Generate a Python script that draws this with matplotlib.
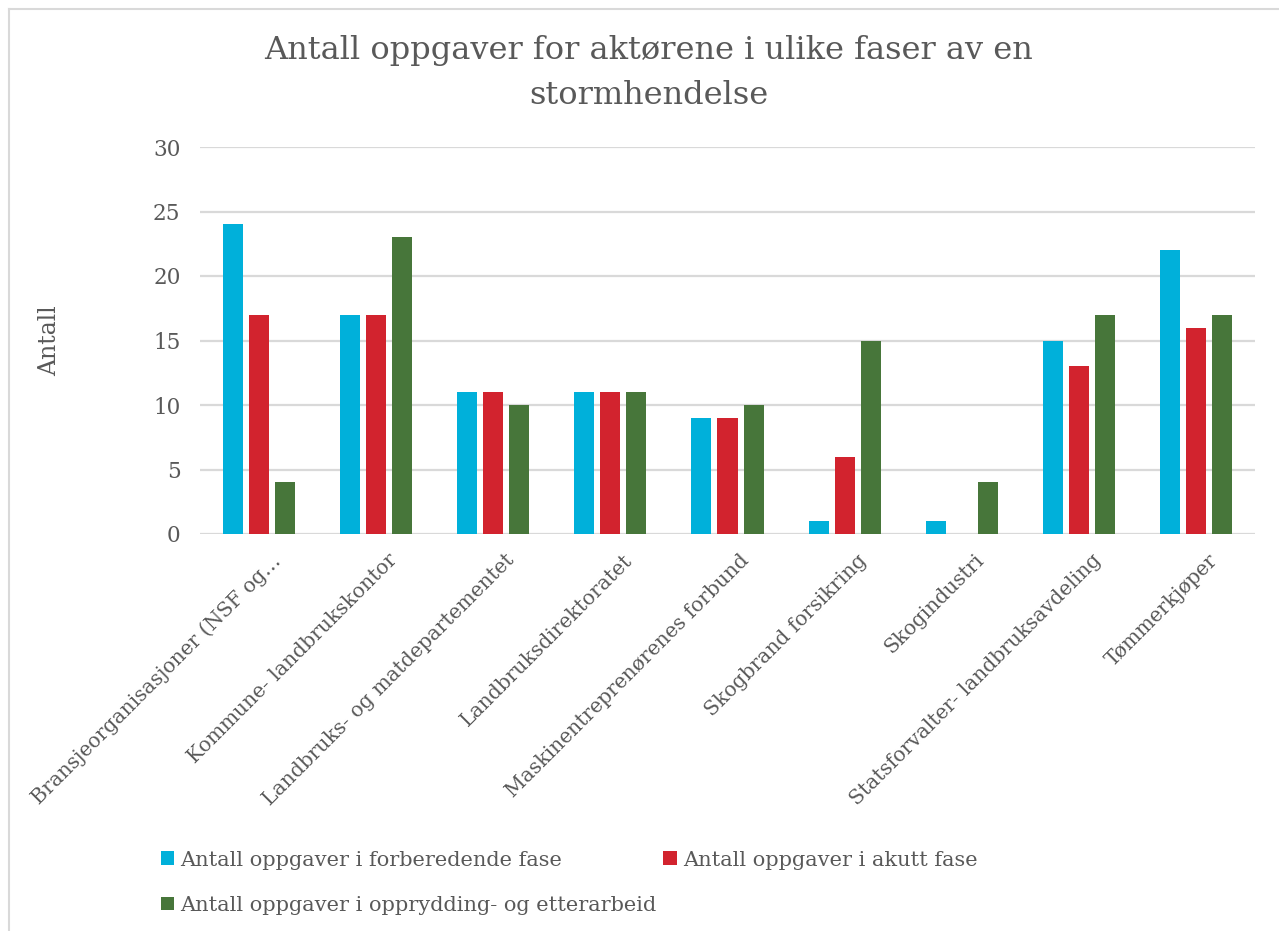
import numpy as np
import matplotlib
matplotlib.use("Agg")
import matplotlib.pyplot as plt
import matplotlib.transforms as mtransforms
from matplotlib.lines import Line2D
from matplotlib.patches import Patch

plt.rcParams["font.family"] = ["DejaVu Serif"]

actors = [
    "Bransjeorganisasjoner (NSF og…",
    "Kommune- landbrukskontor",
    "Landbruks- og matdepartementet",
    "Landbruksdirektoratet",
    "Maskinentreprenørenes forbund",
    "Skogbrand forsikring",
    "Skogindustri",
    "Statsforvalter- landbruksavdeling",
    "Tømmerkjøper",
]
forberedende = [24, 17, 11, 11, 9, 1, 1, 15, 22]
akutt = [17, 17, 11, 11, 9, 6, 0, 13, 16]
opprydding = [4, 23, 10, 11, 10, 15, 4, 17, 17]

series = [
    ("Antall oppgaver i forberedende fase", forberedende, "#00B0DA"),
    ("Antall oppgaver i akutt fase", akutt, "#D2232E"),
    ("Antall oppgaver i opprydding- og etterarbeid", opprydding, "#47763A"),
]

text_col = "#595959"
grid_col = "#D9D9D9"

W, H = 1279, 931
fig = plt.figure(figsize=(W / 100, H / 100), dpi=100)
ax = fig.add_axes([200 / W, 1 - 534 / H, 1055 / W, 387 / H])

x = np.arange(len(actors))
step = 0.222
width = 0.171
for i, (name, vals, col) in enumerate(series):
    ax.bar(x + (i - 1) * step, vals, width, color=col, zorder=3)

ax.set_xlim(-0.5, len(actors) - 0.5)
ax.set_ylim(0, 30)
ax.set_yticks(range(0, 31, 5))
ax.yaxis.grid(True, color=grid_col, linewidth=1.6, zorder=0)
for s in ax.spines.values():
    s.set_visible(False)
ax.tick_params(axis="y", length=0, colors=text_col, labelsize=15.5, pad=14)
ax.tick_params(axis="x", length=0, colors=text_col, labelsize=14.6, pad=12)
ax.set_xticks(x)
ax.set_xticklabels(actors, rotation=45, ha="right", rotation_mode="anchor")
shift = mtransforms.ScaledTranslation(12 / 100, 0, fig.dpi_scale_trans)
for lab in ax.get_xticklabels():
    lab.set_transform(lab.get_transform() + shift)
ax.set_ylabel("Antall", color=text_col, fontsize=17, labelpad=66)

fig.text(649 / W, 1 - 73 / H, "Antall oppgaver for aktørene i ulike faser av en\nstormhendelse",
         ha="center", va="center", fontsize=23, color=text_col, linespacing=1.55)

# legend fills column-wise, so order items to read row by row
order = [0, 2, 1]
handles = [Patch(facecolor=series[k][2], edgecolor="none") for k in order]
labels = [series[k][0] for k in order]
leg = fig.legend(handles, labels, loc="upper left", bbox_to_anchor=(142 / W, 1 - 832 / H),
                 ncol=2, frameon=False, fontsize=15, handlelength=0.65, handleheight=0.65,
                 handletextpad=0.3, columnspacing=0.3, labelspacing=1.25)
for t in leg.get_texts():
    t.set_color(text_col)

# chart frame
fig.add_artist(Line2D([9 / W, 1], [1 - 9 / H, 1 - 9 / H], color=grid_col, linewidth=1.5))
fig.add_artist(Line2D([9 / W, 9 / W], [0, 1 - 9 / H], color=grid_col, linewidth=1.5))

fig.savefig("out.png", dpi=100, facecolor="white")
